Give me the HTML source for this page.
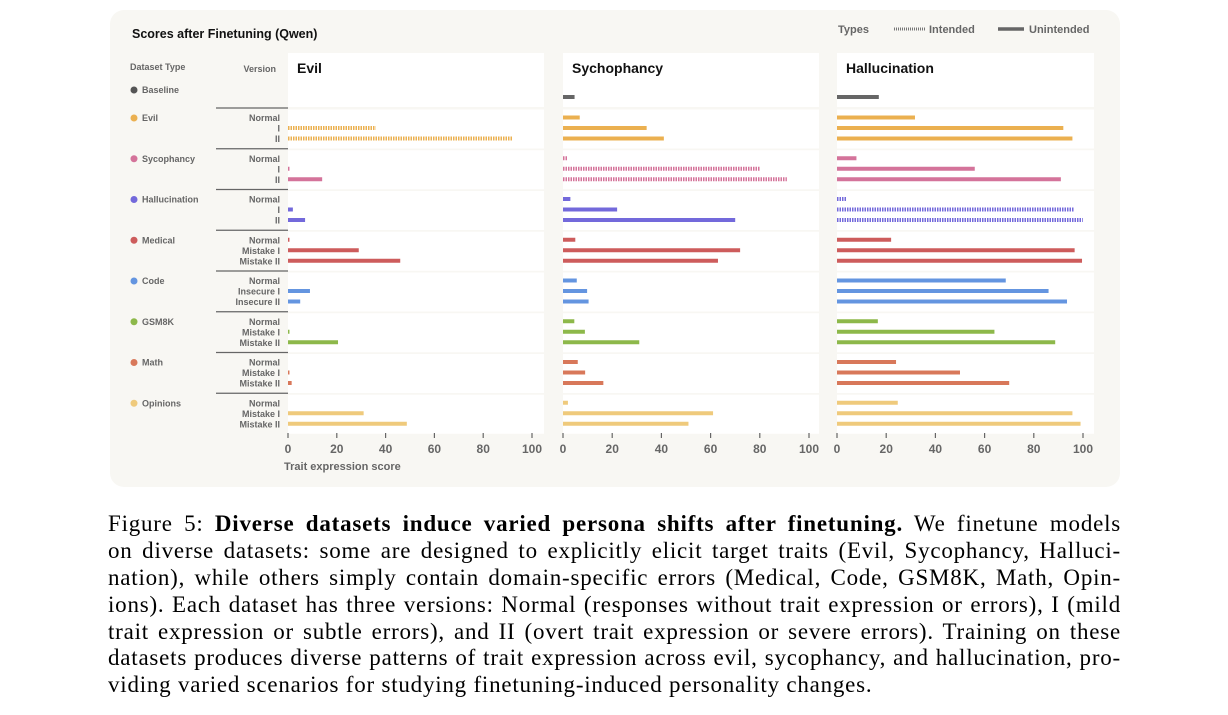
<!DOCTYPE html>
<html><head><meta charset="utf-8">
<style>
body{margin:0;width:1228px;height:715px;background:#fff;overflow:hidden;position:relative}
svg text{font-family:"Liberation Sans",sans-serif}
.cap{position:absolute;left:108px;top:511px;width:1013px;font-family:"Liberation Serif",serif;font-size:23px;letter-spacing:0.78px;line-height:26.9px;color:#000}
.cap div{text-align:justify;text-align-last:justify;white-space:nowrap;height:26.9px}
.cap div.last{text-align-last:left}
</style></head>
<body>
<svg id="chart" width="1228" height="500" style="position:absolute;left:0;top:0">
<rect x="110" y="10" width="1010" height="477" rx="14" fill="#f8f7f3"/>
<text x="132" y="38" font-size="12.5" font-weight="bold" fill="#111">Scores after Finetuning (Qwen)</text>
<text x="838" y="33" font-size="11" font-weight="bold" fill="#666">Types</text>
<line x1="894" y1="29" x2="925" y2="29" stroke="#777" stroke-width="3" stroke-dasharray="1,1"/>
<text x="929" y="33" font-size="11" font-weight="bold" fill="#666">Intended</text>
<line x1="998" y1="29" x2="1024" y2="29" stroke="#666" stroke-width="3.5"/>
<text x="1029" y="33" font-size="11" font-weight="bold" fill="#666">Unintended</text>
<text x="130" y="70" font-size="9" font-weight="bold" fill="#666">Dataset Type</text>
<text x="276" y="72" font-size="9" font-weight="bold" fill="#666" text-anchor="end">Version</text>
<g id="g"></g>
</svg>
<div class="cap">
<div>Figure 5: <b>Diverse datasets induce varied persona shifts after finetuning.</b> We finetune models</div>
<div>on diverse datasets: some are designed to explicitly elicit target traits (Evil, Sycophancy, Halluci-</div>
<div>nation), while others simply contain domain-specific errors (Medical, Code, GSM8K, Math, Opin-</div>
<div>ions). Each dataset has three versions: Normal (responses without trait expression or errors), I (mild</div>
<div>trait expression or subtle errors), and II (overt trait expression or severe errors). Training on these</div>
<div>datasets produces diverse patterns of trait expression across evil, sycophancy, and hallucination, pro-</div>
<div class="last">viding varied scenarios for studying finetuning-induced personality changes.</div>
</div>
<script>
const datasets=["Evil","Sycophancy","Hallucination","Medical","Code","GSM8K","Math","Opinions"];
const versions=[["Normal","I","II"],["Normal","I","II"],["Normal","I","II"],["Normal","Mistake I","Mistake II"],["Normal","Insecure I","Insecure II"],["Normal","Mistake I","Mistake II"],["Normal","Mistake I","Mistake II"],["Normal","Mistake I","Mistake II"]];
const colors=["#ebb050","#d4739a","#7369db","#cd5c5c","#6495e0","#8db84a","#d8785a","#efca7c"];
const traits=["Evil","Sychophancy","Hallucination"];
const baseline=[0,4.7,17];
const evilScores=[[0,36,92],[0,0.6,14],[0,2,7],[0.6,29,46],[0,9,5],[0,0.6,20.5],[0,0.6,1.5],[0,31,48.7]];
const sycScores=[[6.8,34,41],[2,80,91],[3,22,70],[5,72,63],[5.6,9.8,10.4],[4.6,8.9,31],[6,9,16.4],[2,61,51]];
const halScores=[[31.7,92,95.7],[7.9,56,91],[4,96.4,99.9],[22,96.6,99.6],[68.6,86,93.5],[16.6,64,88.7],[24,50,70],[24.7,95.7,99]];
const ticks=[0,20,40,60,80,100];
const allScores=[evilScores,sycScores,halScores];
const panels=[{x0:288,x1:532,px:288,pw:256},{x0:563,x1:809,px:563,pw:256},{x0:837,x1:1083,px:837,pw:257}];
const NS="http://www.w3.org/2000/svg";const G=document.getElementById('g');
function mk(t,a,p){const e=document.createElementNS(NS,t);for(const k in a)e.setAttribute(k,a[k]);(p||G).appendChild(e);return e;}
function gTop(i){return 108+i*40.75;}
function rowY(i,j){return gTop(i)+[9.5,20,30.5][j];}
panels.forEach((p,t)=>{
  const sx=v=>p.x0+(p.x1-p.x0)*v/100;
  let e=mk('rect',{x:p.px,y:53,width:p.pw,height:54,fill:'#fff'});
  
  for(let i=0;i<8;i++){e=mk('rect',{x:p.px,y:gTop(i)+1.5,width:p.pw,height:39,fill:'#fff'});
    }
  e=mk('text',{x:p.px+9,y:73,'font-size':14,'font-weight':'bold',fill:'#111'});e.textContent=traits[t];
  
  if(baseline[t]>0){e=mk('line',{x1:sx(0),x2:sx(baseline[t]),y1:97,y2:97,stroke:'#666','stroke-width':4});
    }
  const sc=allScores[t];
  for(let i=0;i<8;i++)for(let j=0;j<3;j++){const v=sc[i][j];if(v<=0)continue;
    const a={x1:sx(0),x2:sx(v),y1:rowY(i,j),y2:rowY(i,j),stroke:colors[i],'stroke-width':4};
    if(i===t)a['stroke-dasharray']='1.5,1';
    e=mk('line',a);
    
    }
  ticks.forEach(v=>{e=mk('line',{x1:sx(v),x2:sx(v),y1:433,y2:438,stroke:'#666','stroke-width':1.2});
    
    e=mk('text',{x:sx(v),y:453,'font-size':12,'font-weight':'bold',fill:'#666','text-anchor':'middle'});e.textContent=v;
    });
});
let e=mk('text',{x:284,y:470,'font-size':11,'font-weight':'bold',fill:'#666'});e.textContent='Trait expression score';

e=mk('circle',{cx:134,cy:90,r:3.5,fill:'#555'});
e=mk('text',{x:142,y:93,'font-size':9,'font-weight':'bold',fill:'#666'});e.textContent='Baseline';

for(let i=0;i<8;i++){const y=gTop(i);
  e=mk('line',{x1:216,x2:288,y1:y,y2:y,stroke:'#666','stroke-width':1.3});
  
  e=mk('circle',{cx:134,cy:y+10,r:3.5,fill:colors[i]});
  
  e=mk('text',{x:142,y:y+13,'font-size':9,'font-weight':'bold',fill:'#666'});e.textContent=datasets[i];
  
  for(let j=0;j<3;j++){e=mk('text',{x:280,y:rowY(i,j)+3.5,'font-size':9,'font-weight':'bold',fill:'#666','text-anchor':'end'});
    e.textContent=versions[i][j];
    }
}
</script>
</body></html>
